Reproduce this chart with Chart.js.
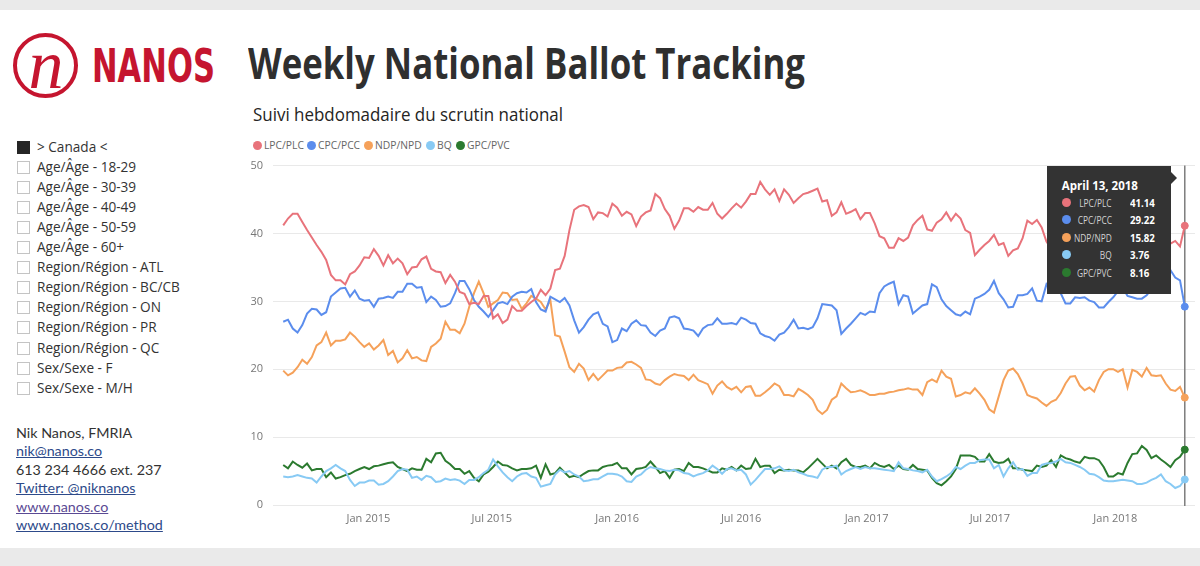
<!DOCTYPE html>
<html>
<head>
<meta charset="utf-8">
<script src="https://cdn.jsdelivr.net/npm/chart.js@4.4.1/dist/chart.umd.min.js"></script>
<style>
html,body{margin:0;padding:0;}
body{width:1200px;height:566px;position:relative;overflow:hidden;background:#fff;font-family:'Open Sans',sans-serif;}
.band{position:absolute;left:0;width:1200px;background:#eaeaea;}
#title{position:absolute;left:248px;top:41px;font-size:43px;line-height:43px;font-weight:bold;color:#2f2f2f;white-space:nowrap;transform-origin:0 0;}
#subtitle{position:absolute;left:253px;top:102px;font-size:18px;line-height:24px;color:#252423;white-space:nowrap;transform-origin:0 0;}
#legend{position:absolute;left:253px;top:137px;height:16px;font-size:10.3px;color:#666;white-space:nowrap;}
#legend .li{position:absolute;top:0;line-height:16px;}
#legend .dot{position:absolute;left:0;top:3.5px;width:9px;height:9px;border-radius:50%;}
#legend .tx{position:absolute;left:11px;top:0;}
.slicer{position:absolute;left:17px;font-size:13.6px;color:#333;white-space:nowrap;}
.slicer .cb{position:absolute;left:0;top:4px;width:11px;height:11px;border:1px solid #c4c4c4;background:#fff;}
.slicer .cb.on{background:#252525;border-color:#252525;}
.slicer .tx{position:absolute;left:20px;top:0;line-height:20px;}
#contact{position:absolute;left:16px;top:424px;font-family:Lato,sans-serif;font-size:14.3px;line-height:18.4px;color:#333;}
#contact a{color:#2d4a8a;text-decoration:underline;}
#contact a.v{color:#5a4a94;}
#wrap{position:absolute;left:230px;top:149px;width:970px;height:386px;}
#tt{position:absolute;width:124px;height:128px;background:#333;color:#fff;display:none;font-family:'Open Sans',sans-serif;}
#tt:after{content:'';position:absolute;right:-6px;top:6px;border-left:6px solid #333;border-top:6px solid transparent;border-bottom:6px solid transparent;}
#tt .ttl{position:absolute;left:15px;top:12px;font-weight:bold;font-size:11.5px;line-height:16px;white-space:nowrap;}
#tt .row{position:absolute;left:0;width:124px;height:17px;line-height:17px;}
#tt .dot{position:absolute;left:15px;top:4px;width:9px;height:9px;border-radius:50%;}
#tt .lab{position:absolute;right:59px;top:0;font-size:11px;color:#d2d2d2;white-space:nowrap;transform:scaleX(0.76);transform-origin:100% 50%;}
#tt .val{position:absolute;left:83px;top:0;font-size:11px;font-weight:bold;white-space:nowrap;transform:scaleX(0.88);transform-origin:0 50%;}
</style>
</head>
<body>
<div class="band" style="top:0;height:10px;"></div>
<div class="band" style="top:548px;height:18px;"></div>

<svg style="position:absolute;left:0;top:0;" width="240" height="120">
  <circle cx="45.5" cy="65.5" r="30.5" fill="none" stroke="#c5152f" stroke-width="4"/>
  <text x="46" y="88" font-family="Liberation Serif, DejaVu Serif, serif" font-style="italic" font-size="70" fill="#c5152f" text-anchor="middle">n</text>
  <text x="92" y="82" font-family="Liberation Sans Narrow, DejaVu Sans Condensed, sans-serif" font-weight="bold" font-size="47" fill="#c5152f" textLength="123" lengthAdjust="spacingAndGlyphs">NANOS</text>
</svg>

<div id="title">Weekly National Ballot Tracking</div>
<div id="subtitle">Suivi hebdomadaire du scrutin national</div>
<div id="legend"></div>
<div id="slicers"></div>
<div id="contact">
  <div>Nik Nanos, FMRIA</div>
  <div><a>nik@nanos.co</a></div>
  <div>613 234 4666 ext. 237</div>
  <div><a>Twitter: @niknanos</a></div>
  <div><a class="v">www.nanos.co</a></div>
  <div><a>www.nanos.co/method</a></div>
</div>

<div id="wrap"><canvas id="c" width="970" height="386"></canvas></div>
<div id="tt"></div>

<script>
// ---------------- data ----------------
const seriesNames = ['LPC/PLC', 'CPC/PCC', 'NDP/NPD', 'BQ', 'GPC/PVC'];
const seriesColors = ['#e8737b', '#5b8ded', '#f5a15a', '#88caf4', '#2b7a2f'];
const firstWeek = '2014-08-29';   // weekly (Friday) polls up to April 13, 2018

const lpc = [
41.2,42.2,42.9,42.9,41.7,40.5,39.4,38.3,37.3,36.1,
33.9,33.1,33.1,32.5,34.0,34.4,35.3,36.5,36.4,37.7,
36.7,35.3,36.8,35.6,36.3,35.6,34.0,35.0,35.1,36.2,
36.6,34.8,34.4,34.3,32.7,33.9,32.9,31.4,31.1,29.6,
29.8,29.6,30.8,30.8,27.5,28.1,26.8,27.3,29.3,28.6,
28.6,29.3,29.9,30.4,31.7,30.9,31.9,34.6,34.8,36.7,
40.5,43.5,44.0,44.2,43.9,42.1,43.1,43.0,42.5,44.4,
43.8,42.6,43.2,42.8,41.1,42.5,43.1,43.4,45.8,45.2,
43.6,42.6,40.7,41.9,43.7,43.7,43.2,43.9,43.5,43.5,
44.5,42.9,42.2,42.9,43.7,44.4,43.8,44.7,45.8,45.8,
47.6,46.5,45.7,46.5,44.8,46.5,45.7,44.5,45.2,45.8,
46.0,46.3,46.6,44.7,44.9,42.6,43.1,44.6,42.9,43.2,
43.6,42.1,43.0,43.0,41.5,39.6,39.3,37.9,37.9,39.3,
38.9,39.4,41.2,42.0,42.6,40.6,40.4,41.6,42.1,43.1,
41.9,42.9,42.2,40.5,40.1,36.8,37.6,38.3,38.9,39.8,
38.3,38.6,36.7,37.5,37.8,39.3,41.9,41.4,42.0,40.9,
38.8,37.8,38.5,39.6,40.2,39.1,38.4,39.5,40.8,41.5,
40.6,39.2,38.6,39.8,40.5,39.4,38.2,38.9,40.1,39.3,
38.4,37.9,38.8,39.6,38.7,38.0,38.5,38.9,38.1,41.14
];
const cpc = [
27.0,27.3,26.0,25.4,26.5,28.2,28.9,28.8,28.0,28.4,
30.7,31.3,31.9,32.0,30.7,31.6,30.4,30.1,30.2,29.2,
30.4,30.5,30.7,30.5,31.4,31.4,32.6,32.6,32.0,32.1,
29.9,30.7,30.2,29.2,29.3,29.7,31.2,33.0,33.0,31.8,
30.2,29.2,28.5,27.7,28.7,29.7,29.9,29.6,30.7,31.2,
31.4,31.3,31.8,29.9,28.8,28.5,30.7,30.3,29.9,30.5,
29.4,27.2,25.4,26.2,27.3,28.1,28.4,26.7,26.3,24.0,
24.3,26.0,25.6,26.7,27.2,26.5,26.4,25.4,24.9,25.7,
26.0,27.6,27.8,27.5,26.0,25.9,25.7,24.9,26.0,26.5,
26.6,27.5,26.7,26.7,26.8,26.6,27.6,27.3,26.8,26.7,
25.3,24.9,24.7,24.2,25.1,25.4,26.2,27.3,26.0,26.1,
25.9,26.2,27.5,29.6,29.5,29.4,28.7,25.2,26.0,26.7,
27.5,28.3,28.0,28.5,28.4,31.2,32.2,32.6,32.9,29.6,
30.9,30.7,28.2,28.8,29.4,29.6,32.5,32.1,30.3,29.3,
28.7,28.1,27.9,28.5,28.1,30.4,30.7,31.1,31.7,33.0,
31.2,30.3,29.1,29.2,30.9,30.9,31.1,31.9,30.1,30.0,
32.5,31.5,32.0,31.2,29.7,29.7,30.6,30.5,30.6,30.1,
29.9,29.1,29.1,29.9,30.6,31.5,32.0,30.8,30.6,30.4,
30.4,30.9,31.8,32.5,33.3,34.0,34.6,33.5,33.1,29.22
];
const ndp = [
19.8,19.1,19.5,20.3,21.4,20.8,21.8,23.5,24.0,25.4,
23.5,24.2,24.2,24.4,25.4,24.8,24.0,23.3,23.8,22.9,
23.5,24.3,22.1,22.7,21.0,21.6,22.8,21.6,21.8,21.3,
21.2,23.3,23.8,24.5,27.0,25.8,25.8,25.3,26.7,29.2,
31.2,32.9,31.2,29.2,29.7,30.2,31.3,31.2,30.2,30.3,
28.9,29.7,30.8,30.4,29.9,28.8,30.2,25.0,24.8,22.6,
20.3,19.6,20.8,20.1,18.4,19.3,18.4,19.1,19.8,19.8,
20.2,20.3,21.0,21.1,20.7,20.2,18.5,18.4,17.9,17.7,
18.4,18.9,19.3,19.1,19.0,18.4,19.2,18.4,18.1,17.8,
16.4,17.6,18.2,17.4,17.0,17.4,16.6,17.4,17.5,16.1,
16.1,16.6,17.2,17.9,17.5,16.2,16.2,16.0,17.1,16.7,
16.2,15.5,14.0,13.4,14.0,15.5,16.0,17.9,17.2,16.6,
16.7,16.9,16.6,16.2,16.2,16.4,16.4,16.6,16.7,16.9,
17.0,17.2,17.0,17.0,16.2,18.1,18.5,18.1,19.8,18.9,
18.6,16.0,16.2,16.6,16.4,17.2,16.4,15.5,14.1,13.6,
16.0,18.4,19.8,20.1,19.3,17.9,16.2,15.9,15.7,15.1,
14.6,15.2,15.5,16.5,17.9,18.9,19.0,17.6,16.9,17.3,
16.7,18.4,19.6,20.0,20.0,19.6,20.0,17.3,19.9,19.6,
18.9,20.2,19.1,19.0,19.1,17.9,17.0,16.8,17.4,15.82
];
const bq = [
4.2,4.1,4.2,4.4,4.2,4.0,3.9,3.3,4.2,5.0,
5.4,5.9,5.4,5.0,3.7,2.8,3.3,3.3,3.6,3.6,
3.0,3.1,3.5,4.2,5.0,5.3,5.2,4.0,4.2,3.7,
4.3,4.1,3.4,3.5,3.9,3.7,3.8,3.6,3.1,3.7,
3.7,4.1,4.7,5.2,6.7,5.7,4.8,4.1,3.5,4.2,
4.6,4.7,4.2,4.0,2.7,2.9,3.1,4.5,5.2,4.8,
5.0,4.5,4.2,3.5,3.6,3.8,3.8,4.2,4.6,4.6,
4.5,4.2,3.5,3.4,4.2,4.5,5.2,5.6,5.4,5.3,
5.1,5.0,5.2,5.1,4.7,4.6,4.2,4.5,4.7,5.1,
5.8,5.3,4.6,5.3,5.4,5.1,5.2,4.5,3.0,3.7,
4.5,5.3,5.3,5.4,5.7,5.1,5.0,5.2,4.8,4.6,
4.3,4.2,4.0,5.2,5.6,5.6,5.8,4.5,5.0,5.3,
5.6,5.3,5.6,5.4,5.4,5.3,5.2,5.1,5.0,6.3,
5.4,5.3,5.1,5.0,4.8,5.2,4.2,3.5,3.8,4.2,
4.7,5.6,5.3,5.8,6.2,6.2,6.6,6.7,6.7,5.4,
5.9,4.2,5.4,6.3,5.2,5.3,4.3,4.7,4.7,5.9,
6.1,6.2,6.4,6.8,6.3,6.2,5.9,5.6,5.2,4.6,
4.5,4.1,3.6,3.5,3.5,3.6,3.7,3.6,3.5,3.1,
3.1,3.3,3.7,4.0,4.5,3.5,3.1,2.5,2.8,3.76
];
const gpc = [
5.9,5.4,6.4,5.9,5.5,6.1,5.1,5.3,5.3,4.1,
4.8,3.9,4.1,4.4,4.6,5.0,5.3,5.6,5.3,5.7,
5.8,6.0,6.2,6.3,5.6,5.3,5.0,5.4,5.2,5.2,
6.8,6.3,7.6,7.7,6.5,6.0,5.3,5.3,4.6,5.0,
4.0,3.5,4.5,4.9,5.6,6.4,5.9,5.8,5.4,5.1,
5.3,5.3,5.4,5.8,4.0,6.0,4.5,4.7,5.5,4.8,
4.1,4.3,4.1,4.6,5.0,5.1,5.1,5.6,5.8,5.9,
6.2,5.4,5.4,4.5,5.3,5.4,5.6,6.4,5.6,4.7,
5.0,4.0,5.2,5.3,5.0,6.2,5.6,5.6,5.4,5.1,
4.8,4.8,5.4,5.2,5.6,5.1,5.8,5.3,5.4,6.8,
5.6,5.8,5.8,4.7,5.2,5.1,5.2,5.1,5.1,4.8,
5.4,6.1,6.8,6.1,5.4,5.8,5.4,6.3,6.8,5.9,
5.6,5.6,5.8,5.4,6.2,5.8,5.6,5.9,5.3,5.8,
5.3,5.2,5.9,5.3,5.2,5.1,4.0,3.2,2.9,3.5,
4.2,5.3,7.3,7.3,7.3,7.1,6.4,6.4,7.5,6.4,
6.2,6.3,6.8,5.4,5.4,5.2,5.1,5.0,5.8,5.6,
5.8,6.6,5.6,7.3,6.9,6.7,6.4,6.2,7.1,6.9,
6.9,6.6,5.6,4.2,4.2,4.7,4.5,6.2,7.5,7.6,
8.7,8.1,6.9,7.3,6.7,6.2,5.6,6.6,7.1,8.16
];
const seriesValues = [lpc, cpc, ndp, bq, gpc];

const tickDates = ['2015-01-01','2015-07-01','2016-01-01','2016-07-01','2017-01-01','2017-07-01','2018-01-01'];
const tickLabels = ['Jan 2015','Jul 2015','Jan 2016','Jul 2016','Jan 2017','Jul 2017','Jan 2018'];
const yTicks = [0, 10, 20, 30, 40, 50];

const slicerItems = ['> Canada <','Age/Âge - 18-29','Age/Âge - 30-39','Age/Âge - 40-49','Age/Âge - 50-59','Age/Âge - 60+',
  'Region/Région - ATL','Region/Région - BC/CB','Region/Région - ON','Region/Région - PR','Region/Région - QC',
  'Sex/Sexe - F','Sex/Sexe - M/H'];
const monthNames = ['January','February','March','April','May','June','July','August','September','October','November','December'];

// ---------------- page text ----------------
(function(){
  const sl = document.getElementById('slicers');
  slicerItems.forEach((name, k) => {
    const d = document.createElement('div');
    d.className = 'slicer';
    d.style.top = (136.5 + k * 20.1) + 'px';
    const cb = document.createElement('span'); cb.className = 'cb' + (k === 0 ? ' on' : '');
    const tx = document.createElement('span'); tx.className = 'tx'; tx.textContent = name;
    d.appendChild(cb); d.appendChild(tx); sl.appendChild(d);
  });
  const lg = document.getElementById('legend');
  const lx = [0, 54, 111, 173, 203];
  seriesNames.forEach((n, k) => {
    const li = document.createElement('div'); li.className = 'li'; li.style.left = lx[k] + 'px';
    li.innerHTML = '<span class="dot" style="background:' + seriesColors[k] + '"></span><span class="tx"></span>';
    li.querySelector('.tx').textContent = n;
    lg.appendChild(li);
  });
  function fitW(id, w){
    const el = document.getElementById(id);
    const r = el.getBoundingClientRect().width;
    el.style.transform = 'scaleX(' + (w / r) + ')';
  }
  fitW('title', 557);
  fitW('subtitle', 310);
})();

// ---------------- chart ----------------
const DAY = 86400000;
const t0 = Date.parse(firstWeek + 'T00:00:00Z');
const weeks = lpc.map((_, i) => t0 + i * 7 * DAY);
const tickValues = tickDates.map(d => Date.parse(d + 'T00:00:00Z'));
const FONT = "'Open Sans', sans-serif";

function externalTooltip(context){
  const chart = context.chart, tooltip = context.tooltip;
  const el = document.getElementById('tt');
  if (!tooltip || tooltip.opacity === 0 || !tooltip.dataPoints || !tooltip.dataPoints.length) { el.style.display = 'none'; return; }
  const dps = tooltip.dataPoints.slice().sort((a, b) => a.datasetIndex - b.datasetIndex);
  const dt = new Date(dps[0].parsed.x);
  el.innerHTML = '';
  const ttl = document.createElement('div'); ttl.className = 'ttl';
  ttl.textContent = monthNames[dt.getUTCMonth()] + ' ' + dt.getUTCDate() + ', ' + dt.getUTCFullYear();
  el.appendChild(ttl);
  dps.forEach((dp, k) => {
    const row = document.createElement('div'); row.className = 'row'; row.style.top = (28.5 + k * 17.4) + 'px';
    const dot = document.createElement('span'); dot.className = 'dot'; dot.style.background = seriesColors[dp.datasetIndex];
    const lab = document.createElement('span'); lab.className = 'lab'; lab.textContent = dp.dataset.label;
    const val = document.createElement('span'); val.className = 'val'; val.textContent = dp.parsed.y.toFixed(2);
    row.appendChild(dot); row.appendChild(lab); row.appendChild(val); el.appendChild(row);
  });
  const wrap = document.getElementById('wrap');
  el.style.display = 'block';
  el.style.left = (wrap.offsetLeft + tooltip.caretX - 14 - 124) + 'px';
  el.style.top = (wrap.offsetTop + chart.chartArea.top) + 'px';
}

const hoverLine = {
  id: 'hoverLine',
  beforeDatasetsDraw(chart){
    const act = chart.getActiveElements();
    if (!act.length) return;
    const x = act[0].element.x;
    const ctx = chart.ctx, a = chart.chartArea;
    ctx.save();
    ctx.strokeStyle = '#7d7d7d';
    ctx.lineWidth = 1.5;
    ctx.beginPath(); ctx.moveTo(x, a.top); ctx.lineTo(x, a.bottom + 1); ctx.stroke();
    ctx.restore();
  }
};

const chart = new Chart(document.getElementById('c'), {
  type: 'line',
  data: {
    datasets: seriesNames.map((n, k) => ({
      label: n,
      data: seriesValues[k].map((v, i) => ({ x: weeks[i], y: v })),
      borderColor: seriesColors[k],
      backgroundColor: seriesColors[k],
      borderWidth: 2,
      pointRadius: 0,
      pointHoverRadius: 3.5,
      pointHoverBorderWidth: 1,
      pointHoverBackgroundColor: seriesColors[k],
      pointHoverBorderColor: seriesColors[k],
      pointHitRadius: 0,
      tension: 0,
      fill: false
    }))
  },
  options: {
    responsive: false,
    animation: false,
    layout: { padding: { top: 10, right: 5, left: 0, bottom: 0 } },
    interaction: { mode: 'index', intersect: false },
    plugins: {
      legend: { display: false },
      tooltip: { enabled: false, external: externalTooltip }
    },
    scales: {
      x: {
        type: 'linear',
        min: t0 - 15 * DAY,
        max: weeks[weeks.length - 1] + 15 * DAY,
        grid: { display: false, drawTicks: false },
        border: { display: false },
        afterBuildTicks: s => { s.ticks = tickValues.map(v => ({ value: v })); },
        afterFit: s => { s.height = 30; },
        ticks: {
          autoSkip: false, maxRotation: 0, padding: 7, color: '#777',
          font: { size: 11, family: FONT },
          callback: v => tickLabels[tickValues.indexOf(v)]
        }
      },
      y: {
        min: 0, max: 50,
        afterBuildTicks: s => { s.ticks = yTicks.map(v => ({ value: v })); },
        afterFit: s => { s.width = 43; },
        grid: { color: '#e9e9e9', drawTicks: false },
        border: { display: false },
        ticks: { padding: 10, color: '#777', font: { size: 11, family: FONT } }
      }
    }
  },
  plugins: [hoverLine]
});

const last = lpc.length - 1;
const active = seriesNames.map((_, k) => ({ datasetIndex: k, index: last }));
const pt = chart.getDatasetMeta(0).data[last];
chart.setActiveElements(active);
chart.tooltip.setActiveElements(active, { x: pt.x, y: pt.y });
chart.update('none');
</script>
</body>
</html>
